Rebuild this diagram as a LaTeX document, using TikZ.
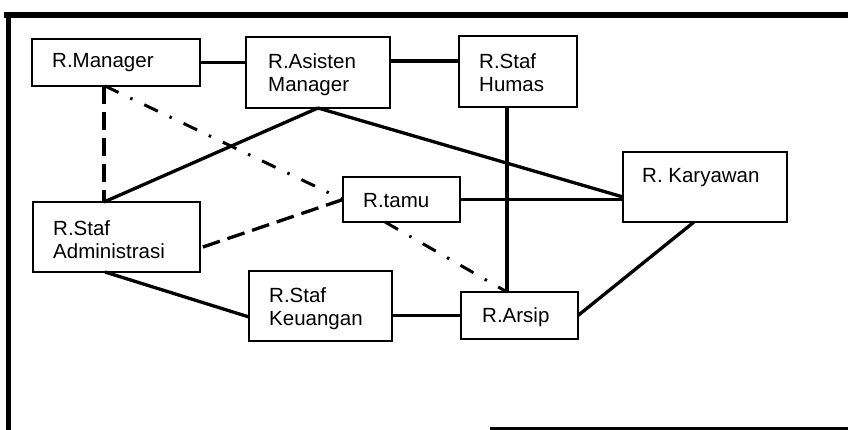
\documentclass[tikz,border=0pt]{standalone}
\usepackage{fontspec}
\setmainfont{Liberation Sans}
\usetikzlibrary{calc}
\tikzset{
  room/.style={draw, line width=1.7pt, fill=white, inner sep=0pt, outer sep=0pt, anchor=north west},
  lbl/.style={inner sep=0pt, anchor=north west, align=left, font=\fontsize{20.5}{23}\selectfont},
  conn/.style={line width=3.3pt},
  dashconn/.style={line width=3.3pt, dash pattern=on 18pt off 8pt},
  dotconn/.style={line width=3pt, dash pattern=on 15pt off 13pt on 2.5pt off 13pt},
  frame/.style={line width=5.5pt}
}
\begin{document}
\begin{tikzpicture}[x=1pt,y=-1pt]
\useasboundingbox (0,0) rectangle (848,430);
% frame
\draw[frame] (4,15) -- (848,15);
\draw[frame] (8.5,13) -- (8.5,430);
\draw[line width=3pt] (490,428.5) -- (848,428.5);
% rooms
\node[room, minimum width=168pt, minimum height=47pt] (man) at (32,39) {};
\node[room, minimum width=144pt, minimum height=71pt] (asis) at (246,37) {};
\node[room, minimum width=118pt, minimum height=71pt] (hum) at (459,36) {};
\node[room, minimum width=164pt, minimum height=70pt] (kar) at (623,152) {};
\node[room, minimum width=117pt, minimum height=45pt] (tamu) at (343,177) {};
\node[room, minimum width=167pt, minimum height=70pt] (adm) at (33,202) {};
\node[room, minimum width=143pt, minimum height=70pt] (keu) at (249,271) {};
\node[room, minimum width=117pt, minimum height=47pt] (arsip) at (461,292) {};
% labels
\node[lbl] (man-t) at (52,53) {R.Manager};
\node[lbl] (asis-t) at (268,53) {R.Asisten\\Manager};
\node[lbl] (hum-t) at (479,53) {R.Staf\\Humas};
\node[lbl] (kar-t) at (642,168) {R. Karyawan};
\node[lbl] (tamu-t) at (363,193) {R.tamu};
\node[lbl] (adm-t) at (53,220) {R.Staf\\Administrasi};
\node[lbl] (keu-t) at (269,287) {R.Staf\\Keuangan};
\node[lbl] (arsip-t) at (482,307) {R.Arsip};
% solid connectors
\draw[conn] (man.east) -- (man.east -| asis.west);
\draw[conn] ([yshift=11.5pt]asis.east) -- ([yshift=11.5pt]asis.east -| hum.west);
\draw[conn] (asis.south) -- ([xshift=-12.5pt]adm.north);
\draw[conn] (asis.south) -- ([yshift=-10pt]kar.west);
\draw[conn] (tamu.east) -- (tamu.east -| kar.west);
\draw[conn] ([xshift=-11pt]hum.south) -- ([xshift=-11pt]hum.south |- arsip.north);
\draw[conn] ([xshift=-11.5pt]adm.south) -- ([yshift=-11pt]keu.west);
\draw[conn] (arsip.west -| keu.east) -- (arsip.west);
\draw[conn] (arsip.east) -- ([xshift=-11pt]kar.south);
% dashed connectors
\draw[dashconn] ([xshift=-12pt]man.south) -- ([xshift=-12pt]man.south |- adm.north);
\draw[dashconn] (tamu.west) -- ([yshift=-11pt]adm.east);
% dash-dot connectors
\draw[dotconn] ([xshift=-11pt]man.south) -- (tamu.west);
\draw[dotconn] ([xshift=-16.5pt]tamu.south) -- ([xshift=-12.5pt]arsip.north);
\end{tikzpicture}
\end{document}
